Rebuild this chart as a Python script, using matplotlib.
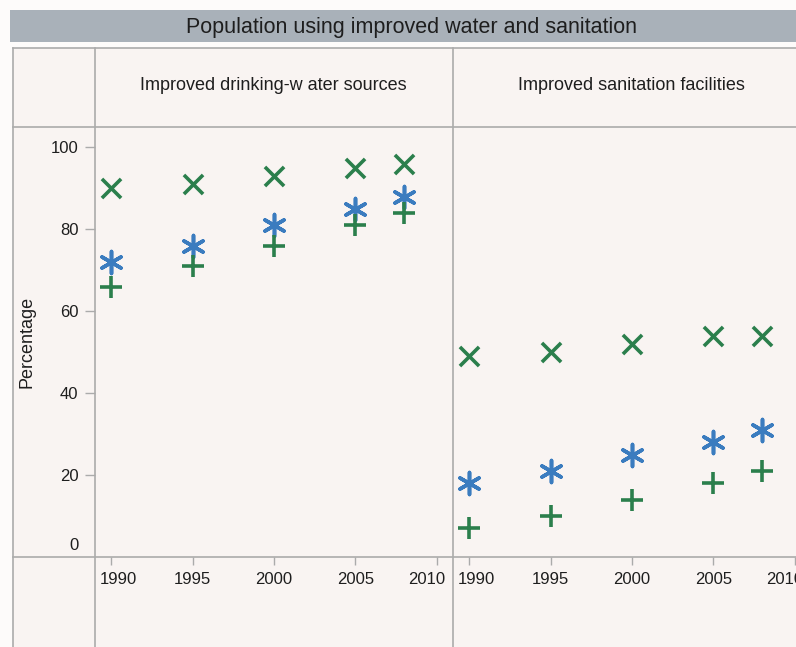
import numpy as np
import matplotlib
import matplotlib.pyplot as plt
from matplotlib.patches import Rectangle
from matplotlib.transforms import ScaledTranslation

matplotlib.use("Agg")

plt.rcParams['font.family'] = ['Liberation Sans', 'DejaVu Sans']

# 数据
years = [1990, 1995, 2000, 2005, 2008]
panel_titles = ["Improved drinking-w ater sources", "Improved sanitation facilities"]
water_x = [90, 91, 93, 95, 96]
water_star = [72, 76, 81, 85, 88]
water_plus = [66, 71, 76, 81, 84]
sani_x = [49, 50, 52, 54, 54]
sani_star = [18, 21, 25, 28, 31]
sani_plus = [7, 10, 14, 18, 21]
y_ticks = [20, 40, 60, 80, 100]
x_ticks = [1990, 1995, 2000, 2005, 2010]

green = '#2b7f4c'
blue = '#3b7cbf'
line_col = '#ababab'
bg_col = '#f9f4f2'
txt_col = '#1e1e1e'

W, H = 796, 647
fig = plt.figure(figsize=(W / 100, H / 100), dpi=100, facecolor='#fdfbfa')

# 背景层（像素坐标）
bg = fig.add_axes([0, 0, 1, 1], zorder=0)
bg.set_xlim(0, W)
bg.set_ylim(H, 0)
bg.axis('off')
bg.add_patch(Rectangle((13, 48), W, H, facecolor=bg_col, edgecolor='none'))
bg.add_patch(Rectangle((10, 10), W, 32, facecolor='#a9b1b9', edgecolor='none'))
bg.text(411, 27, "Population using improved water and sanitation", ha='center', va='center',
        fontsize=15.5, color=txt_col)
for x0 in [13, 95, 453]:
    bg.plot([x0, x0], [48, H], color=line_col, lw=1.2)
for y0 in [48, 127, 557]:
    bg.plot([13, W], [y0, y0], color=line_col, lw=1.2)

# 两个面板
panels = [(95, panel_titles[0], water_x, water_star, water_plus),
          (453, panel_titles[1], sani_x, sani_star, sani_plus)]
for i, (left, title, vx, vs, vp) in enumerate(panels):
    ax = fig.add_axes([left / W, (H - 557) / H, 358 / W, (557 - 127) / H], zorder=1)
    ax.set_facecolor('none')
    for s in ax.spines.values():
        s.set_visible(False)
    ax.set_xlim(1989, 2011)
    ax.set_ylim(0, 105)
    ax.scatter(years, vx, marker='x', s=190, color=green, linewidths=2.6, clip_on=False)
    ax.scatter(years, vs, marker=(6, 2, 0), s=250, color=blue, linewidths=2.6, clip_on=False)
    ax.scatter(years, vp, marker='+', s=250, color=green, linewidths=2.6, clip_on=False)
    ax.set_xticks(x_ticks)
    ax.tick_params(axis='x', direction='out', length=6, width=1, color=line_col,
                   labelsize=12, labelcolor=txt_col, pad=5)
    # 两端的刻度标签向内收
    labels = ax.get_xticklabels()
    labels[0].set_transform(labels[0].get_transform() + ScaledTranslation(7 / 100, 0, fig.dpi_scale_trans))
    labels[-1].set_transform(labels[-1].get_transform() + ScaledTranslation(-10 / 100, 0, fig.dpi_scale_trans))
    bg.text(left + 178, 86, title, ha='center', va='center', fontsize=13, color=txt_col)
    if i == 0:
        ax.set_yticks(y_ticks)
        ax.tick_params(axis='y', direction='out', length=7, width=1, color=line_col,
                       labelsize=12, labelcolor=txt_col, pad=5)
        ax.annotate("0", xy=(0, 0), xycoords=ax.get_yaxis_transform(), xytext=(-12, 3),
                    textcoords='offset points', ha='right', va='bottom',
                    fontsize=12, color=txt_col)
        ax.set_ylabel("Percentage", fontsize=13, color=txt_col, labelpad=11)
    else:
        ax.set_yticks([])

fig.savefig("out.png", dpi=100, facecolor=fig.get_facecolor())
